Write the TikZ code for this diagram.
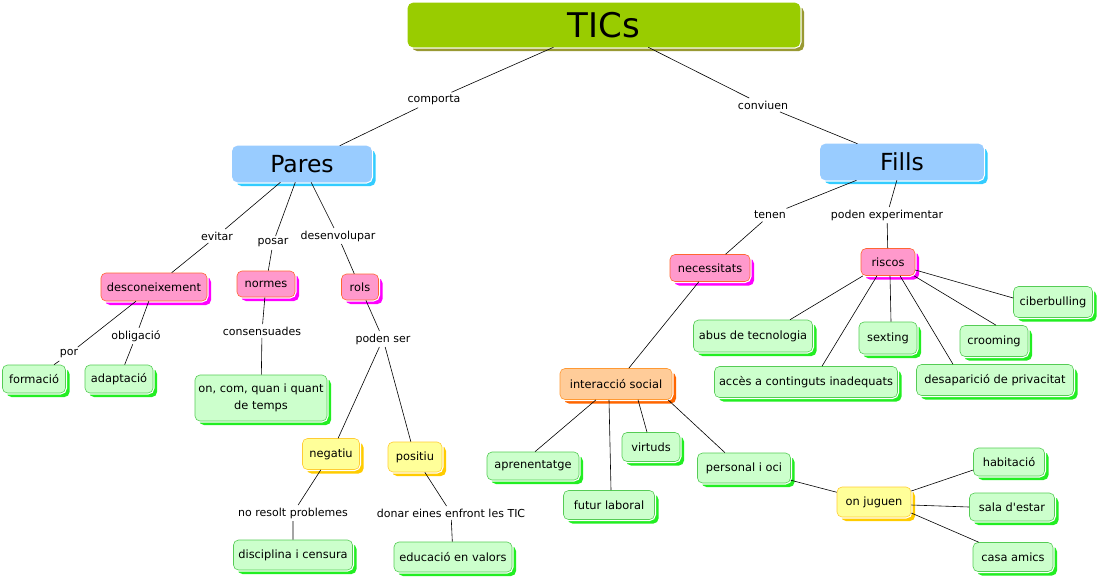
\documentclass[tikz,border=0pt]{standalone}
\usepackage{fontspec}
\setmainfont{DejaVu Sans}[Ligatures=TeXOff]
\usetikzlibrary{shadows}
\definecolor{gfill}{HTML}{CCFFCC}\definecolor{gdraw}{HTML}{55CC55}\definecolor{gshad}{HTML}{22EE22}
\definecolor{pfill}{HTML}{FF99CC}\definecolor{pdraw}{HTML}{FF6633}\definecolor{pshad}{HTML}{FF00FF}
\definecolor{yfill}{HTML}{FFFF99}\definecolor{ydraw}{HTML}{FFCC33}\definecolor{yshad}{HTML}{FFCC00}
\definecolor{ofill}{HTML}{FFCC99}\definecolor{odraw}{HTML}{FF9933}\definecolor{oshad}{HTML}{FF6600}
\definecolor{bfill}{HTML}{99CCFF}\definecolor{bdraw}{HTML}{99CCFF}\definecolor{bshad}{HTML}{33CCFF}
\definecolor{tfill}{HTML}{99CC00}\definecolor{tdraw}{HTML}{99CC00}\definecolor{tshad}{HTML}{999933}
\tikzset{
  box/.style n args={3}{rectangle, rounded corners=5pt, inner sep=2pt, align=center,
    font=\fontsize{11.4}{16.5}\selectfont,
    general shadow={fill=#3, shadow xshift=4pt, shadow yshift=-4pt},
    preaction={draw=white, line width=3pt},
    fill=#1, draw=#2, line width=0.6pt},
  gbox/.style={box={gfill}{gdraw}{gshad}},
  pbox/.style={box={pfill}{pdraw}{pshad}},
  ybox/.style={box={yfill}{ydraw}{yshad}},
  obox/.style={box={ofill}{odraw}{oshad}},
  bbox/.style={box={bfill}{bdraw}{bshad}, font=\fontsize{23.5}{26}\selectfont},
  tbox/.style={box={tfill}{tdraw}{tshad}, font=\fontsize{34}{36}\selectfont},
  lbl/.style={font=\fontsize{11}{13}\selectfont, inner sep=2.5pt},
  conn/.style={draw=black, line width=0.6pt},
}
\begin{document}
\begin{tikzpicture}[x=1pt,y=-1pt]
\useasboundingbox (0,0) rectangle (1099,576);
% main nodes
\node[tbox, minimum width=392pt, minimum height=44pt] (tics) at (604,25) {TICs};
\node[bbox, minimum width=139pt, minimum height=36pt] (pares) at (302,164) {Pares};
\node[bbox, minimum width=163pt, minimum height=36pt] (fills) at (902,162) {Fills};
% left
\node[pbox, minimum width=106pt, minimum height=28pt] (desc) at (154,287) {desconeixement};
\node[pbox, minimum width=58pt, minimum height=26pt] (normes) at (266,284) {normes};
\node[pbox, minimum width=37pt, minimum height=26pt] (rols) at (360,287) {rols};
\node[gbox, minimum width=63pt, minimum height=28pt] (formacio) at (34,379) {formació};
\node[gbox, minimum width=68pt, minimum height=28pt] (adaptacio) at (119,379) {adaptació};
\node[gbox, minimum width=132pt, minimum height=46pt] (oncom) at (261,398) {on, com, quan i quant\\de temps};
\node[ybox, minimum width=57pt, minimum height=31pt] (negatiu) at (331,454) {negatiu};
\node[ybox, minimum width=54pt, minimum height=30pt] (positiu) at (415,457) {positiu};
\node[gbox, minimum width=119pt, minimum height=30pt] (disciplina) at (293,555) {disciplina i censura};
\node[gbox, minimum width=118pt, minimum height=30pt] (educacio) at (453,557) {educació en valors};
% right
\node[pbox, minimum width=80pt, minimum height=27pt] (necessitats) at (710,268) {necessitats};
\node[pbox, minimum width=54pt, minimum height=27pt] (riscos) at (888,262) {riscos};
\node[gbox, minimum width=79pt, minimum height=31pt] (ciber) at (1053,302) {ciberbulling};
\node[gbox, minimum width=119pt, minimum height=32pt] (abus) at (753,336) {abus de tecnologia};
\node[gbox, minimum width=58pt, minimum height=32pt] (sexting) at (888,338) {sexting};
\node[gbox, minimum width=68pt, minimum height=31pt] (crooming) at (994,341) {crooming};
\node[gbox, minimum width=183pt, minimum height=31pt] (acces) at (806,382) {accès a continguts inadequats};
\node[gbox, minimum width=157pt, minimum height=31pt] (desap) at (995,380) {desaparició de privacitat};
\node[obox, minimum width=112pt, minimum height=31pt] (interaccio) at (616,384) {interacció social};
\node[gbox, minimum width=92pt, minimum height=28pt] (aprenent) at (533,466) {aprenentatge};
\node[gbox, minimum width=91pt, minimum height=29pt] (futur) at (609,505) {futur laboral};
\node[gbox, minimum width=58pt, minimum height=29pt] (virtuds) at (651,447) {virtuds};
\node[gbox, minimum width=93pt, minimum height=30pt] (personal) at (744,468) {personal i oci};
\node[ybox, minimum width=74pt, minimum height=30pt] (onjuguen) at (874,502) {on juguen};
\node[gbox, minimum width=71pt, minimum height=28pt] (habitacio) at (1009,462) {habitació};
\node[gbox, minimum width=85pt, minimum height=28pt] (sala) at (1012,507) {sala d'estar};
\node[gbox, minimum width=80pt, minimum height=29pt] (casa) at (1013,557) {casa amics};
% labels
\node[lbl] (lcomporta) at (434,100) {comporta};
\node[lbl] (lconviuen) at (763,105) {conviuen};
\node[lbl] (levitar) at (217,236) {evitar};
\node[lbl] (lposar) at (273,243) {posar};
\node[lbl] (ldesenv) at (338,236) {desenvolupar};
\node[lbl] (lpor) at (69,354) {por};
\node[lbl] (lobl) at (136,336) {obligació};
\node[lbl] (lcons) at (262,331) {consensuades};
\node[lbl] (lpoden) at (383,339) {poden ser};
\node[lbl] (lnores) at (293,513) {no resolt problemes};
\node[lbl] (ldonar) at (451,513) {donar eines enfront les TIC};
\node[lbl] (ltenen) at (770,215) {tenen};
\node[lbl] (lpodexp) at (887,215) {poden experimentar};
% connectors
\draw[conn] (tics) -- (lcomporta) -- (pares);
\draw[conn] (tics) -- (lconviuen) -- (fills);
\draw[conn] (pares) -- (levitar) -- (desc);
\draw[conn] (pares) -- (lposar) -- (normes);
\draw[conn] (pares) -- (ldesenv) -- (rols);
\draw[conn] (desc) -- (lpor) -- (formacio);
\draw[conn] (desc) -- (lobl) -- (adaptacio);
\draw[conn] (normes) -- (lcons) -- (oncom);
\draw[conn] (rols) -- (lpoden);
\draw[conn] (lpoden) -- (negatiu);
\draw[conn] (lpoden) -- (positiu);
\draw[conn] (negatiu) -- (lnores) -- (disciplina);
\draw[conn] (positiu) -- (ldonar) -- (educacio);
\draw[conn] (fills) -- (ltenen) -- (necessitats);
\draw[conn] (fills) -- (lpodexp) -- (riscos);
\draw[conn] (necessitats) -- (interaccio);
\draw[conn] ([yshift=-8pt]riscos.east) -- ([yshift=4pt]ciber.west);
\draw[conn] ([xshift=-25pt]riscos.south) -- ([xshift=37pt]abus.north);
\draw[conn] ([xshift=2pt]riscos.south) -- ([xshift=3pt]sexting.north);
\draw[conn] ([xshift=26pt]riscos.south) -- ([xshift=2pt]crooming.north);
\draw[conn] ([xshift=-11pt]riscos.south) -- ([xshift=16pt]acces.north);
\draw[conn] ([xshift=12pt]riscos.south) -- ([xshift=-42pt]desap.north);
\draw[conn] ([xshift=-20pt]interaccio.south) -- ([xshift=2pt]aprenent.north);
\draw[conn] ([xshift=-7pt]interaccio.south) -- ([xshift=2pt]futur.north);
\draw[conn] ([xshift=22pt]interaccio.south) -- ([xshift=-4pt]virtuds.north);
\draw[conn] ([xshift=52pt]interaccio.south) -- ([xshift=-19pt]personal.north);
\draw[conn] (personal) -- (onjuguen);
\draw[conn] ([yshift=11pt]onjuguen.east) -- ([yshift=-8pt]habitacio.west);
\draw[conn] ([yshift=-3pt]onjuguen.east) -- (sala.west);
\draw[conn] ([yshift=-11pt]onjuguen.east) -- ([xshift=6pt]casa.north west);
\end{tikzpicture}
\end{document}
